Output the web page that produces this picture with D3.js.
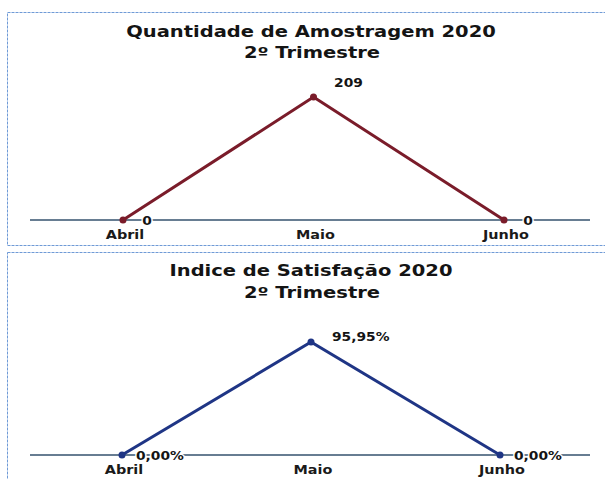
<!DOCTYPE html>
<html>
<head>
<meta charset="utf-8">
<script src="https://cdn.jsdelivr.net/npm/d3@7"></script>
<style>
  body { margin: 0; background: #fff; }
  svg { display: block; font-family: "DejaVu Sans", Verdana, sans-serif; }
</style>
</head>
<body>
<svg id="chart" width="605" height="479"></svg>
<script>
const months = ['Abril', 'Maio', 'Junho'];
const amostragem = [0, 209, 0];
const amostragemLabels = ['0', '209', '0'];
const satisfacao = [0, 95.95, 0];
const satisfacaoLabels = ['0,00%', '95,95%', '0,00%'];

const svg = d3.select('#chart');

// the source font is a wide heavy sans, so stretch DejaVu Bold a bit
function widen(sel, k) {
  sel.each(function () {
    const w = this.getComputedTextLength();
    d3.select(this).attr('textLength', w * k).attr('lengthAdjust', 'spacingAndGlyphs');
  });
}

const panels = [
  { title: 'Quantidade de Amostragem 2020', sub: '2º Trimestre', values: amostragem, labels: amostragemLabels,
    color: '#7a1c2a', top: 12, bottom: 245, axisY: 220, peakY: 97, titleY: 37, subY: 58,
    xRange: [123, 504], peakDx: 35, peakDy: -10, zeroDx: 24, zeroAnchor: 'middle', peakAnchor: 'middle' },
  { title: 'Indice de Satisfação 2020', sub: '2º Trimestre', values: satisfacao, labels: satisfacaoLabels,
    color: '#1f3585', top: 252, bottom: 482, axisY: 455, peakY: 342, titleY: 276, subY: 298,
    xRange: [122, 500], peakDx: 21, peakDy: -1, zeroDx: 14, zeroAnchor: 'start', peakAnchor: 'start' }
];

panels.forEach(p => {
  const g = svg.append('g');

  g.append('rect')
    .attr('x', 7.5).attr('y', p.top + 0.5)
    .attr('width', 605).attr('height', p.bottom - p.top)
    .attr('fill', 'none')
    .attr('stroke', '#6f9ad6')
    .attr('stroke-dasharray', '3,1');

  const x = d3.scalePoint().domain(months).range(p.xRange);
  const y = d3.scaleLinear().domain([0, d3.max(p.values)]).range([p.axisY, p.peakY]);

  g.append('text').attr('x', 311).attr('y', p.titleY)
    .attr('text-anchor', 'middle').attr('font-size', 15).attr('font-weight', 'bold')
    .attr('fill', '#141414').text(p.title)
    .call(widen, 1.3);
  g.append('text').attr('x', 312).attr('y', p.subY)
    .attr('text-anchor', 'middle').attr('font-size', 15).attr('font-weight', 'bold')
    .attr('fill', '#141414').text(p.sub)
    .call(widen, 1.3);

  // horizontal category axis
  g.append('line')
    .attr('x1', 30).attr('x2', 590)
    .attr('y1', y(0)).attr('y2', y(0))
    .attr('stroke', '#34526e').attr('stroke-width', 1.3);

  g.selectAll('.cat').data(months).join('text')
    .attr('x', d => x(d) + 2).attr('y', y(0) + 19)
    .attr('text-anchor', 'middle').attr('font-size', 12).attr('font-weight', 'bold')
    .attr('fill', '#1a1a1a').text(d => d)
    .call(widen, 1.2);

  const line = d3.line().x((d, i) => x(months[i])).y(d => y(d));
  g.append('path').datum(p.values)
    .attr('d', line).attr('fill', 'none')
    .attr('stroke', p.color).attr('stroke-width', 3);

  g.selectAll('.pt').data(p.values).join('circle')
    .attr('cx', (d, i) => x(months[i])).attr('cy', d => y(d))
    .attr('r', 3.5).attr('fill', p.color);

  g.selectAll('.val').data(p.values).join('text')
    .attr('x', (d, i) => x(months[i]) + (d > 0 ? p.peakDx : p.zeroDx))
    .attr('y', d => d > 0 ? y(d) + p.peakDy : y(0) + 5)
    .attr('text-anchor', d => d > 0 ? p.peakAnchor : p.zeroAnchor)
    .attr('font-size', 11.5).attr('font-weight', 'bold')
    .attr('fill', '#141414')
    .attr('paint-order', 'stroke').attr('stroke', '#fff').attr('stroke-width', 2.5)
    .text((d, i) => p.labels[i])
    .call(widen, 1.2);
});
</script>
</body>
</html>
